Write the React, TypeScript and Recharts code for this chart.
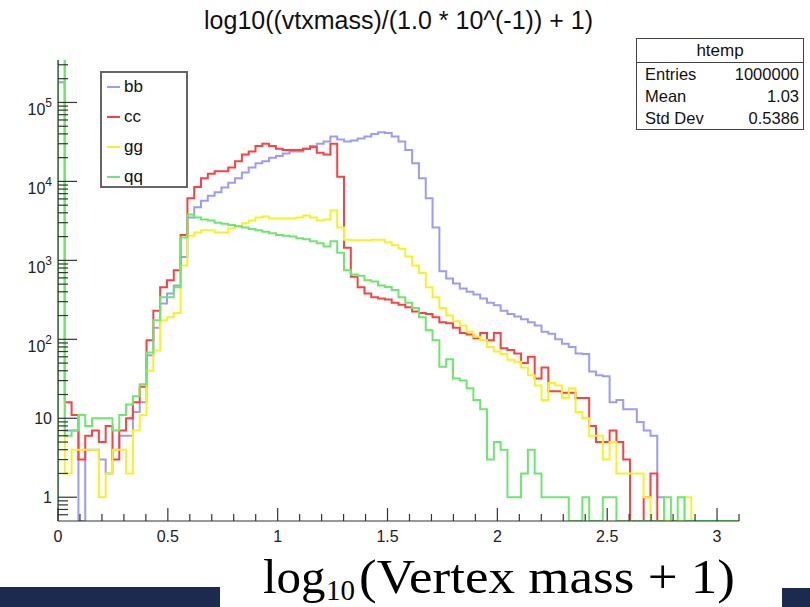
import { LineChart, Line, XAxis, YAxis } from "recharts"

// 100 bins over [0, 3.1]
const BIN_WIDTH = 0.031
const X_MAX = 3.1
const Y_MIN = 0.5
const Y_MAX = 345000

const TITLE = "log10((vtxmass)/(1.0 * 10^(-1)) + 1)"

// bin contents (0 = empty bin)
const bb = [
  180000, 7, 7, 0, 4, 4, 3, 2, 4, 6,
  6, 12, 16, 63, 140, 285, 380, 480, 1100, 3500,
  4700, 5700, 6600, 7300, 8400, 9600, 11000, 13000, 15000, 17000,
  18000, 20000, 21000, 22500, 24000, 24000, 26000, 28000, 30000, 32000,
  37000, 34000, 32000, 33000, 35000, 37000, 40000, 42000, 41000, 37000,
  32000, 25000, 17000, 11000, 6100, 2600, 730, 590, 510, 440,
  400, 370, 330, 290, 270, 230, 210, 195, 180, 165,
  150, 125, 118, 100, 88, 80, 66, 65, 39, 35,
  34, 16, 17, 13, 13, 9, 7, 6, 1, 0,
  0, 0, 0, 0, 0, 0, 0, 0, 0, 0,
]
const cc = [
  400000, 16, 11, 3, 6, 7, 5, 8, 3, 7,
  10, 16, 25, 97, 230, 455, 560, 750, 2100, 6100,
  8500, 11000, 12500, 13500, 13500, 15000, 18000, 22000, 24000, 28000,
  30000, 28000, 26000, 25000, 25000, 25000, 26000, 27000, 23000, 22000,
  30000, 11500, 1450, 620, 455, 380, 340, 330, 320, 290,
  275, 255, 225, 215, 210, 190, 165, 160, 140, 120,
  115, 103, 120, 97, 120, 77, 73, 66, 50, 60,
  32, 44, 22, 22, 21, 21, 18, 18, 8, 5,
  5, 7, 5, 3, 0, 0, 1, 2, 0, 0,
  0, 0, 0, 0, 0, 0, 0, 0, 0, 0,
]
const gg = [
  500000, 2, 4, 4, 4, 4, 1, 2, 4, 4,
  2, 7, 11, 40, 72, 175, 190, 215, 860, 2050,
  2250, 2400, 2400, 2250, 2250, 2550, 2700, 2950, 3200, 3500,
  3600, 3400, 3400, 3400, 3400, 3500, 3700, 3500, 3200, 3300,
  4300, 2600, 1830, 1800, 1800, 1800, 1830, 1830, 1700, 1550,
  1400, 1120, 860, 690, 455, 340, 250, 200, 170, 150,
  125, 108, 98, 80, 70, 65, 55, 52, 44, 35,
  26, 17, 28, 26, 18, 24, 12, 10, 6, 6,
  3, 5, 2, 2, 2, 2, 1, 0, 0, 0,
  0, 0, 1, 0, 0, 0, 0, 0, 0, 0,
]
const qq = [
  600000, 6, 7, 11, 8, 10, 10, 10, 7, 11,
  15, 19, 27, 68, 175, 340, 340, 455, 1950, 3800,
  3500, 3300, 3200, 3000, 2900, 2800, 2700, 2600, 2500, 2400,
  2300, 2200, 2100, 2050, 2000, 1900, 1850, 1750, 1650, 1500,
  1750, 1250, 750, 660, 640, 560, 540, 480, 460, 420,
  340, 290, 250, 190, 130, 97, 45, 56, 32, 30,
  24, 17, 13, 3, 5, 4, 1, 1, 2, 4,
  2, 1, 1, 1, 1, 0, 0, 1, 0, 0,
  1, 1, 0, 0, 0, 0, 0, 0, 0, 1,
  0, 1, 0, 0, 0, 0, 0, 0, 0, 0,
]

const SERIES = [
  { key: "bb", values: bb, color: "#9b9bff" },
  { key: "cc", values: cc, color: "#ff4040" },
  { key: "gg", values: gg, color: "#f7f224" },
  { key: "qq", values: qq, color: "#6ce86c" },
]

const STATS_LABELS = ["Entries", "Mean", "Std Dev"]
const STATS_VALUES = ["1000000", "1.03", "0.5386"]

const X_MAJOR = [0, 0.5, 1, 1.5, 2, 2.5, 3]
const Y_DECADES = [1, 10, 100, 1000, 10000, 100000]

// minor ticks every 0.1 on x, 2..9 per decade on y
const xTicks: number[] = []
for (let i = 0; i <= 31; i++) xTicks.push(i / 10)
const yTicks: number[] = []
for (let d = 0.1; d <= 100000; d *= 10) {
  for (let m = 1; m <= 9; m++) {
    const v = Math.round(m * d * 10) / 10
    if (v >= 0.6 && v <= Y_MAX) yTicks.push(v)
  }
}

// step points: a leading floor point, then one point per lower bin edge, then the last edge
const chartData: any[] = []
const floorRow: any = { x: 0 }
SERIES.forEach((s) => (floorRow[s.key] = Y_MIN))
chartData.push(floorRow)
for (let i = 0; i <= bb.length; i++) {
  const k = Math.min(i, bb.length - 1)
  const row: any = { x: Math.round(i * BIN_WIDTH * 1000) / 1000 }
  SERIES.forEach((s) => (row[s.key] = Math.max(s.values[k], Y_MIN)))
  chartData.push(row)
}

const AXIS = "#333"
const FONT = "'Liberation Sans', Arial, Helvetica, sans-serif"

function XTick(props: any) {
  const { x, y, payload } = props
  const v = payload.value
  const major = X_MAJOR.some((m) => Math.abs(m - v) < 1e-6)
  return (
    <g>
      <line x1={x} x2={x} y1={y} y2={y - (major ? 13 : 7)} stroke={AXIS} strokeWidth={1.2} />
      {major && (
        <text x={x} y={y + 21} textAnchor="middle" fontSize={16} fontFamily={FONT} fill="#222">
          {String(v)}
        </text>
      )}
    </g>
  )
}

function YTick(props: any) {
  const { x, y, payload } = props
  const v = payload.value
  const major = Y_DECADES.includes(v)
  const exp = Math.round(Math.log10(v))
  return (
    <g>
      <line x1={x} x2={x + (major ? 19 : 10)} y1={y} y2={y} stroke={AXIS} strokeWidth={1.2} />
      {major && exp < 2 && (
        <text x={x - 6} y={y + 6} textAnchor="end" fontSize={16} fontFamily={FONT} fill="#222">
          {String(v)}
        </text>
      )}
      {major && exp >= 2 && (
        <text x={x - 6} y={y + 13} textAnchor="end" fontSize={16} fontFamily={FONT} fill="#222">
          10
          <tspan dy={-8} fontSize={12}>
            {exp}
          </tspan>
        </text>
      )}
    </g>
  )
}

export default function App() {
  return (
    <div
      style={{
        position: "absolute",
        left: 0,
        top: 0,
        width: 810,
        height: 607,
        background: "#fff",
        overflow: "hidden",
        fontFamily: FONT,
      }}
    >
      <LineChart width={810} height={607} data={chartData} margin={{ top: 60, right: 71, bottom: 56, left: 18 }}>
        <XAxis
          dataKey="x"
          type="number"
          domain={[0, X_MAX]}
          ticks={xTicks}
          interval={0}
          tick={(p: any) => <XTick {...p} />}
          tickLine={false}
          tickSize={0}
          tickMargin={0}
          height={30}
          axisLine={{ stroke: AXIS, strokeWidth: 1.2 }}
          allowDataOverflow
        />
        <XAxis
          xAxisId="top"
          orientation="top"
          type="number"
          domain={[0, X_MAX]}
          tick={false}
          tickLine={false}
          height={0}
          axisLine={{ stroke: AXIS, strokeWidth: 1.2 }}
        />
        <YAxis
          type="number"
          scale="log"
          domain={[Y_MIN, Y_MAX]}
          allowDataOverflow
          ticks={yTicks}
          interval={0}
          tick={(p: any) => <YTick {...p} />}
          tickLine={false}
          tickSize={0}
          tickMargin={0}
          width={40}
          axisLine={{ stroke: AXIS, strokeWidth: 1.2 }}
        />
        <YAxis
          yAxisId="right"
          orientation="right"
          type="number"
          domain={[0, 1]}
          tick={false}
          tickLine={false}
          width={0}
          axisLine={{ stroke: AXIS, strokeWidth: 1.2 }}
        />
        {SERIES.map((s) => (
          <Line
            key={s.key}
            type="stepAfter"
            dataKey={s.key}
            stroke={s.color}
            strokeWidth={2}
            dot={false}
            isAnimationActive={false}
          />
        ))}
      </LineChart>

      {/* title */}
      <div
        style={{
          position: "absolute",
          left: 0,
          top: 6,
          width: 797,
          textAlign: "center",
          fontSize: 25,
          color: "#111",
        }}
      >
        {TITLE}
      </div>

      {/* legend */}
      <div
        style={{
          position: "absolute",
          left: 100,
          top: 71,
          width: 84,
          height: 113,
          border: "2px solid #666",
          background: "#fff",
        }}
      >
        {SERIES.map((s, i) => (
          <div
            key={s.key}
            style={{
              position: "absolute",
              left: 5,
              top: 3 + i * 30,
              height: 22,
              display: "flex",
              alignItems: "center",
              fontSize: 17,
              color: "#111",
            }}
          >
            <span style={{ display: "inline-block", width: 13, height: 2, background: s.color, marginRight: 4 }} />
            {s.key}
          </div>
        ))}
      </div>

      {/* stats box */}
      <div
        style={{
          position: "absolute",
          left: 636,
          top: 38,
          width: 166,
          height: 90,
          border: "1.5px solid #444",
          background: "#fff",
          fontSize: 16.5,
          color: "#111",
        }}
      >
        <div style={{ height: 23, lineHeight: "23px", textAlign: "center", borderBottom: "1.5px solid #444", fontSize: 17 }}>
          htemp
        </div>
        {STATS_LABELS.map((l, i) => (
          <div key={l} style={{ display: "flex", justifyContent: "space-between", height: 22, lineHeight: "22px", padding: "0 4px 0 8px" }}>
            <span>{l}</span>
            <span>{STATS_VALUES[i]}</span>
          </div>
        ))}
      </div>

      {/* axis title and slide bars */}
      <div style={{ position: "absolute", left: 0, top: 587, width: 220, height: 20, background: "#1b2a4e" }} />
      <div style={{ position: "absolute", left: 782, top: 588, width: 28, height: 19, background: "#1b2a4e" }} />
      <svg width={810} height={607} style={{ position: "absolute", left: 0, top: 0 }}>
        <text fontFamily="'Liberation Serif', 'DejaVu Serif', serif" fill="#000" y={593}>
          <tspan x={263} fontSize={49}>log</tspan>
          <tspan x={326} fontSize={29} dy={7}>10</tspan>
          <tspan x={359} fontSize={49} dy={-7} textLength={376} lengthAdjust="spacingAndGlyphs">
            (Vertex mass + 1)
          </tspan>
        </text>
      </svg>
    </div>
  )
}
